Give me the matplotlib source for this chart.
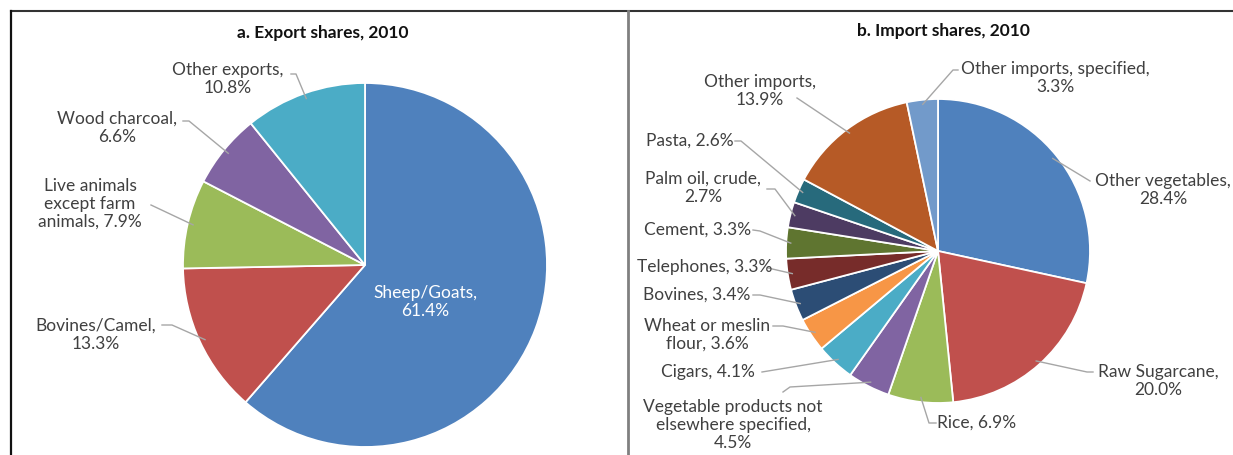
import numpy as np
import matplotlib.pyplot as plt

plt.rcParams['font.family'] = ['Lato', 'DejaVu Sans']

# data
exp_labels = ['Sheep/Goats', 'Bovines/Camel', 'Live animals\nexcept farm\nanimals',
              'Wood charcoal', 'Other exports']
exp_shares = [61.4, 13.3, 7.9, 6.6, 10.8]
exp_colors = ['#4F81BD', '#C0504D', '#9BBB59', '#8064A2', '#4BACC6']

imp_labels = ['Other vegetables', 'Raw Sugarcane', 'Rice',
              'Vegetable products not\nelsewhere specified', 'Cigars',
              'Wheat or meslin\nflour', 'Bovines', 'Telephones', 'Cement',
              'Palm oil, crude', 'Pasta', 'Other imports', 'Other imports, specified']
imp_shares = [28.4, 20.0, 6.9, 4.5, 4.1, 3.6, 3.4, 3.3, 3.3, 2.7, 2.6, 13.9, 3.3]
imp_colors = ['#4F81BD', '#C0504D', '#9BBB59', '#8064A2', '#4BACC6', '#F79646',
              '#2C4D75', '#772C2A', '#5F7530', '#4D3B62', '#276A7C', '#B65A26', '#729ACA']

W, H = 1233, 455
fig = plt.figure(figsize=(W / 100, H / 100), dpi=100)
ax = fig.add_axes([0, 0, 1, 1])
ax.set_xlim(0, W)
ax.set_ylim(0, H)
ax.axis('off')

txt = '#404040'
line_c = '#A6A6A6'
fs = 12.5

def py(y):
    # pixel row (from top) -> data y
    return H - y

# frame
ax.plot([11, W], [py(11), py(11)], color='#333333', lw=1.5)
ax.plot([11, 11], [py(11), 0], color='#111111', lw=1.6)
ax.plot([628, 628], [py(11), 0], color='#808080', lw=2)

ax.text(323, py(33), 'a. Export shares, 2010', ha='center', va='center',
        fontsize=12.5, fontweight='bold', color='#111111')
ax.text(943, py(31), 'b. Import shares, 2010', ha='center', va='center',
        fontsize=12.5, fontweight='bold', color='#111111')

def draw_pie(shares, colors, cx, cy, r):
    ax.pie(shares, colors=colors, startangle=90, counterclock=False,
           center=(cx, py(cy)), radius=r,
           wedgeprops=dict(edgecolor='white', linewidth=1.3))
    ax.set_xlim(0, W)
    ax.set_ylim(0, H)
    ax.set_aspect('equal')
    # mid angles, clockwise from 12 o'clock
    cum = np.cumsum([0] + list(shares))
    mids = (cum[:-1] + cum[1:]) / 2 / 100 * 360
    return mids

def anchor(cx, cy, r, ang, f=0.97):
    a = np.radians(ang)
    return cx + f * r * np.sin(a), py(cy) + f * r * np.cos(a)

# export pie
ecx, ecy, er = 365, 265, 182
emids = draw_pie(exp_shares, exp_colors, ecx, ecy, er)

# label layout: text centre, elbow points (pixel coords)
exp_layout = [
    (425, 302, None),
    (96, 335, [(162, 325), (172, 325)]),
    (90, 204, [(151, 205)]),
    (117, 128, [(183, 121), (189, 121)]),
    (228, 79, [(291, 74), (296, 74)]),
]
for i, (lab, val) in enumerate(zip(exp_labels, exp_shares)):
    tx, ty, pts = exp_layout[i]
    s = f'{lab},\n{val:.1f}%'
    if i == 2:
        s = f'{lab}, {val:.1f}%'
    if pts is None:
        ax.text(tx, py(ty), s, ha='center', va='center', fontsize=fs,
                color='white', linespacing=1.15)
        continue
    ax.text(tx, py(ty), s, ha='center', va='center', fontsize=fs,
            color=txt, linespacing=1.15)
    xa, ya = anchor(ecx, ecy, er, emids[i])
    xs = [p[0] for p in pts] + [xa]
    ys = [py(p[1]) for p in pts] + [ya]
    ax.plot(xs, ys, color=line_c, lw=1)

# import pie
icx, icy, ir = 938, 251, 152
imids = draw_pie(imp_shares, imp_colors, icx, icy, ir)

imp_layout = [
    (1163, 190, [(1090, 181)]),
    (1158, 381, [(1093, 372), (1087, 372)]),
    (977, 423, None),
    (733, 425, [(783, 392), (790, 387)]),
    (708, 372, [(762, 372)]),
    (707, 335, [(773, 326), (783, 326)]),
    (697, 295, [(753, 295), (760, 295)]),
    (705, 267, [(768, 268)]),
    (698, 230, [(753, 230), (760, 231)]),
    (703, 188, [(767, 189), (775, 189)]),
    (690, 141, [(735, 141), (741, 141)]),
    (760, 91, [(797, 98)]),
    (1055, 78, [(958, 70), (953, 70)]),
]
one_line = {'Cigars', 'Bovines', 'Telephones', 'Cement', 'Pasta', 'Rice'}
for i, (lab, val) in enumerate(zip(imp_labels, imp_shares)):
    tx, ty, pts = imp_layout[i]
    if lab in one_line or lab.startswith('Wheat'):
        s = f'{lab}, {val:.1f}%'
    else:
        s = f'{lab},\n{val:.1f}%'
    ax.text(tx, py(ty), s, ha='center', va='center', fontsize=fs,
            color=txt, linespacing=1.15)
    xa, ya = anchor(icx, icy, ir, imids[i])
    if pts is None:
        # Rice: leader from text left side
        pts = [(936, 423), (929, 423)]
    xs = [p[0] for p in pts] + [xa]
    ys = [py(p[1]) for p in pts] + [ya]
    ax.plot(xs, ys, color=line_c, lw=1)

fig.savefig('out.png', dpi=100)
